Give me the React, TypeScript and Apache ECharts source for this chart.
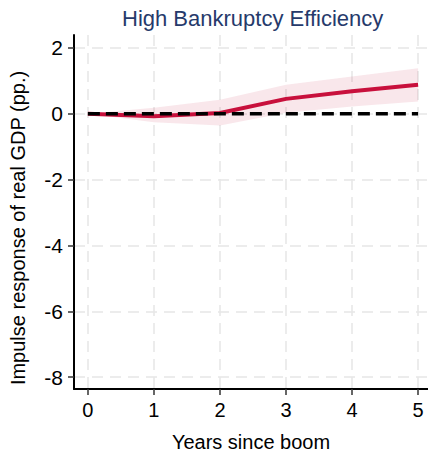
import React, { useEffect, useRef } from "react";
import * as echarts from "echarts";

const years = [0, 1, 2, 3, 4, 5];
const response = [0, -0.08, 0.02, 0.45, 0.68, 0.88];
const lowerBand = [0, -0.26, -0.36, 0.03, 0.22, 0.37];
const upperBand = [0, 0.18, 0.42, 0.88, 1.13, 1.38];
const zeroLine = [0, 0, 0, 0, 0, 0];
const yTicks = [-8, -6, -4, -2, 0, 2];
const xTicks = [0, 1, 2, 3, 4, 5];

const FONT = "Liberation Sans, Arial, sans-serif";

export default function App() {
  const ref = useRef<HTMLDivElement>(null);
  useEffect(() => {
    if (!ref.current) return;
    const chart = echarts.init(ref.current, null, { renderer: "svg" });
    const bandData = years.map((x, i) => [x, lowerBand[i], upperBand[i]]);
    chart.setOption({
      animation: false,
      backgroundColor: "#ffffff",
      title: {
        text: "High Bankruptcy Efficiency",
        left: 117,
        top: 2,
        textStyle: { fontFamily: FONT, fontSize: 22, fontWeight: "normal", color: "#263a6b" },
      },
      graphic: [
        {
          type: "text",
          x: 18,
          y: 228,
          rotation: Math.PI / 2,
          style: {
            text: "Impulse response of real GDP (pp.)",
            fontFamily: FONT,
            fontSize: 20,
            fill: "#000",
            align: "center",
            verticalAlign: "middle",
          },
        },
      ],
      grid: { left: 74, right: 0, top: 35, bottom: 64 },
      xAxis: {
        type: "value",
        min: -0.21,
        max: 5.15,
        name: "Years since boom",
        nameLocation: "middle",
        nameGap: 43,
        nameTextStyle: { fontFamily: FONT, fontSize: 20, color: "#000" },
        axisLine: { show: true, onZero: false, lineStyle: { color: "#000", width: 2 } },
        axisTick: { show: true, length: 6, customValues: xTicks, lineStyle: { color: "#333", width: 1.5 } },
        axisLabel: { customValues: xTicks, fontFamily: FONT, fontSize: 20, color: "#000", margin: 11 },
        splitLine: { show: true, lineStyle: { color: "#e6e6e6", type: [11, 7], width: 1.5 } },
      },
      yAxis: {
        type: "value",
        min: -8.36,
        max: 2.39,
        axisLine: { show: true, onZero: false, lineStyle: { color: "#000", width: 2 } },
        axisTick: { show: true, length: 6, customValues: yTicks, lineStyle: { color: "#333", width: 1.5 } },
        axisLabel: { customValues: yTicks, fontFamily: FONT, fontSize: 21, color: "#000", margin: 11 },
        splitLine: { show: true, lineStyle: { color: "#e6e6e6", type: [11, 7], width: 1.5 } },
      },
      series: [
        {
          type: "custom",
          data: bandData,
          silent: true,
          encode: { x: 0, y: [1, 2] },
          renderItem: (params: any, api: any) => {
            if (params.dataIndex !== 0) return null;
            const upper = bandData.map((d) => api.coord([d[0], d[2]]));
            const lower = bandData.map((d) => api.coord([d[0], d[1]])).reverse();
            return {
              type: "polygon",
              shape: { points: upper.concat(lower) },
              style: { fill: "rgba(200,16,60,0.1)", stroke: "none" },
            };
          },
        },
        {
          type: "line",
          data: years.map((x, i) => [x, response[i]]),
          symbol: "none",
          lineStyle: { color: "#c8103c", width: 4 },
        },
        {
          type: "line",
          data: years.map((x, i) => [x, zeroLine[i]]),
          symbol: "none",
          lineStyle: { color: "#000", width: 3.5, type: [12, 6] },
        },
      ],
    });
    return () => chart.dispose();
  }, []);
  return (
    <div
      ref={ref}
      style={{ position: "fixed", left: 0, top: 0, width: 428, height: 457 }}
    />
  );
}
